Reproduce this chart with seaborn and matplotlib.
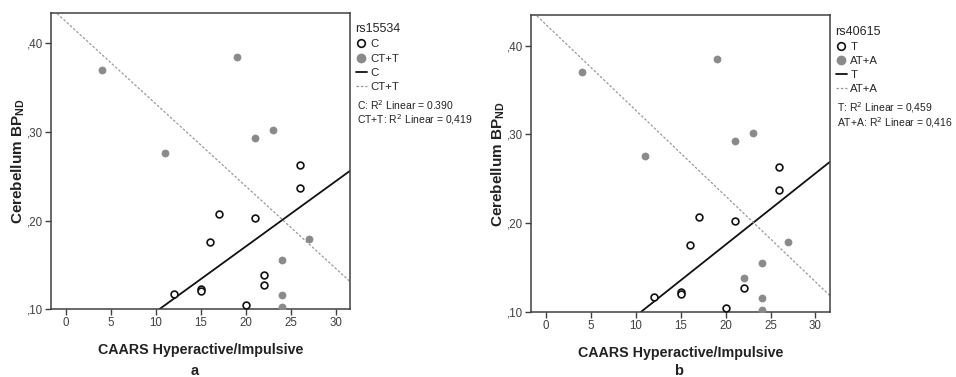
import matplotlib
matplotlib.use("Agg")
import matplotlib.pyplot as plt
from matplotlib.lines import Line2D
import seaborn as sns
import pandas as pd

# ---- data ----
x_open_a = [12, 15, 15, 16, 17, 20, 21, 22, 22, 26, 26]
y_open_a = [0.117, 0.123, 0.121, 0.176, 0.207, 0.105, 0.203, 0.139, 0.127, 0.263, 0.237]
x_fill_a = [4, 11, 19, 21, 23, 27, 24, 24, 24]
y_fill_a = [0.370, 0.276, 0.385, 0.293, 0.302, 0.179, 0.155, 0.116, 0.102]

x_open_b = [12, 15, 15, 16, 17, 20, 21, 22, 26, 26]
y_open_b = [0.117, 0.123, 0.121, 0.176, 0.207, 0.105, 0.203, 0.127, 0.263, 0.237]
x_fill_b = [4, 11, 19, 21, 23, 27, 24, 24, 24, 22]
y_fill_b = [0.370, 0.276, 0.385, 0.293, 0.302, 0.179, 0.155, 0.116, 0.102, 0.139]

titles = ["rs15534", "rs40615"]
groups_a = ["C", "CT+T"]
groups_b = ["T", "AT+A"]
r2_a = ["0.390", "0,419"]
r2_b = ["0,459", "0,416"]
panel_letters = ["a", "b"]
x_ticks = [0, 5, 10, 15, 20, 25, 30]
y_ticks = [0.10, 0.20, 0.30, 0.40]
y_tick_labels = [",10", ",20", ",30", ",40"]

sns.set_theme(style="ticks")
plt.rcParams["font.family"] = ["Liberation Sans", "DejaVu Sans"]

fig = plt.figure(figsize=(9.56, 3.77), dpi=100)
ax_pos = [[0.053, 0.180, 0.313, 0.785], [0.555, 0.172, 0.313, 0.787]]
letter_x = [0.204, 0.710]

fill_col = "#8a8a8a"
spine_col = "#404040"

panels = [
    (x_open_a, y_open_a, x_fill_a, y_fill_a, groups_a, r2_a),
    (x_open_b, y_open_b, x_fill_b, y_fill_b, groups_b, r2_b),
]

for i, (xo, yo, xf, yf, grp, r2) in enumerate(panels):
    ax = fig.add_axes(ax_pos[i])
    ax.set_xlim(-1.7, 31.6)
    ax.set_ylim(0.10, 0.434)
    d_open = pd.DataFrame({"x": xo, "y": yo})
    d_fill = pd.DataFrame({"x": xf, "y": yf})

    sns.regplot(data=d_open, x="x", y="y", ax=ax, scatter=False, ci=None,
                truncate=False, line_kws=dict(color="#111111", lw=1.3))
    sns.regplot(data=d_fill, x="x", y="y", ax=ax, scatter=False, ci=None,
                truncate=False, line_kws=dict(color="#999999", lw=0.9,
                                              linestyle=(0, (2, 1.5))))
    sns.scatterplot(data=d_fill, x="x", y="y", ax=ax, color=fill_col,
                    edgecolor=fill_col, s=26, linewidth=0.5, zorder=4)
    sns.scatterplot(data=d_open, x="x", y="y", ax=ax, facecolor="white",
                    edgecolor="#111111", s=24, linewidth=1.2, zorder=5)

    ax.set_xlim(-1.7, 31.6)
    ax.set_ylim(0.10, 0.434)
    ax.set_xticks(x_ticks)
    ax.set_xticklabels([str(t) for t in x_ticks])
    ax.set_yticks(y_ticks)
    ax.set_yticklabels(y_tick_labels)
    ax.tick_params(axis="both", labelsize=8.3, colors=spine_col, length=4,
                   width=1.0, pad=1.5)
    for s in ax.spines.values():
        s.set_color(spine_col)
        s.set_linewidth(1.1)
    ax.set_xlabel("CAARS Hyperactive/Impulsive", fontsize=10.3, fontweight="bold",
                  labelpad=10, color="#222222")
    ax.set_ylabel("Cerebellum BP$_{\\mathregular{ND}}$", fontsize=11,
                  fontweight="bold", color="#222222")
    ax.yaxis.set_label_coords(-0.080, 0.5)
    fig.text(letter_x[i], 0.017, panel_letters[i], ha="center", va="center",
             fontsize=10.5, fontweight="bold", color="#222222")

    handles = [
        Line2D([], [], marker="o", linestyle="none", markerfacecolor="white",
               markeredgecolor="#111111", markeredgewidth=1.2, markersize=5.5),
        Line2D([], [], marker="o", linestyle="none", markerfacecolor=fill_col,
               markeredgecolor=fill_col, markersize=6),
        Line2D([], [], color="#111111", lw=1.3),
        Line2D([], [], color="#999999", lw=0.9, linestyle=(0, (2, 1.5))),
    ]
    labels = [grp[0], grp[1], grp[0], grp[1]]
    leg = ax.legend(handles, labels, title=titles[i], loc="upper left",
                    bbox_to_anchor=(1.0, 0.985), frameon=False, fontsize=8.2,
                    title_fontsize=9, handlelength=1.0, handletextpad=0.3,
                    labelspacing=0.36, borderaxespad=0.3, borderpad=0.2)
    leg._legend_box.align = "left"
    ax.text(1.025, 0.688, f"{grp[0]}: R$^2$ Linear = {r2[0]}",
            transform=ax.transAxes, fontsize=7.5, va="center", ha="left",
            color="#222222")
    ax.text(1.025, 0.640, f"{grp[1]}: R$^2$ Linear = {r2[1]}",
            transform=ax.transAxes, fontsize=7.5, va="center", ha="left",
            color="#222222")

fig.savefig("out.png", dpi=100)
